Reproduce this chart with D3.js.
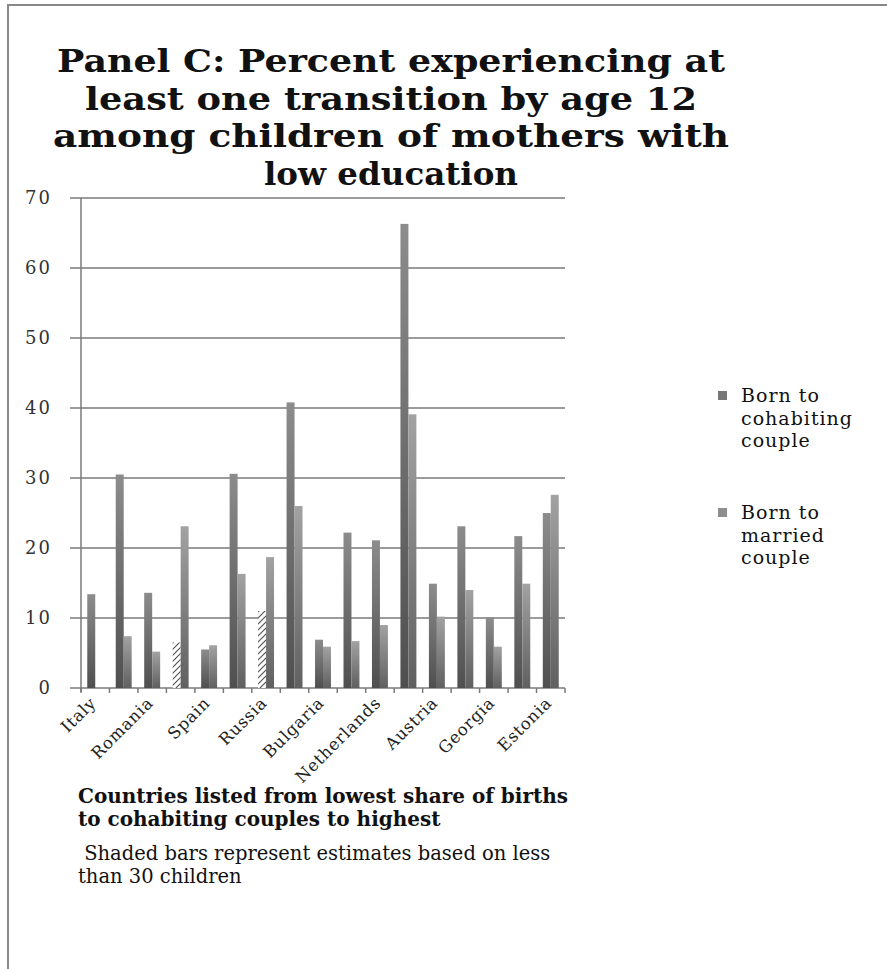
<!DOCTYPE html>
<html>
<head>
<meta charset="utf-8">
<script src="https://cdn.jsdelivr.net/npm/d3@7"></script>
<style>
  body { margin: 0; background: #fff; }
  svg text { fill: #111; }
</style>
</head>
<body>
<svg id="chart" width="887" height="969"></svg>
<script>
// tick labels on the x axis (Excel skipped every other country name)
const countryLabels = ["Italy", "", "Romania", "", "Spain", "", "Russia", "", "Bulgaria", "",
  "Netherlands", "", "Austria", "", "Georgia", "", "Estonia"];
// series values
const cohabiting = [13.4, 30.5, 13.6, 6.5, 5.5, 30.6, 11.0, 40.8, 6.9, 22.2, 21.1, 66.3, 14.9, 23.1, 10.1, 21.7, 25.0];
const married = [0, 7.4, 5.2, 23.1, 6.1, 16.3, 18.7, 26.0, 5.9, 6.7, 9.0, 39.1, 10.2, 14.0, 5.9, 14.9, 27.6];
// bars based on less than 30 children (drawn hatched)
const smallCohabiting = [3, 6];
const smallMarried = [];
const yTicks = [0, 10, 20, 30, 40, 50, 60, 70];

const svg = d3.select("#chart");
const serif = "'DejaVu Serif', serif";

// frame
svg.append("path")
  .attr("d", "M8,969 V5 H887")
  .attr("fill", "none").attr("stroke", "#888").attr("stroke-width", 2);

// defs: gradients + hatch
const defs = svg.append("defs");
const grads = [["gCohab", "#4f4f4f", "#8c8c8c"], ["gMarried", "#606060", "#a2a2a2"]];
grads.forEach(g => {
  const lg = defs.append("linearGradient").attr("id", g[0])
    .attr("x1", 0).attr("y1", 1).attr("x2", 0).attr("y2", 0);
  lg.append("stop").attr("offset", "0%").attr("stop-color", g[1]);
  lg.append("stop").attr("offset", "100%").attr("stop-color", g[2]);
});
const hatch = defs.append("pattern").attr("id", "hatch")
  .attr("patternUnits", "userSpaceOnUse").attr("width", 6).attr("height", 6);
hatch.append("rect").attr("width", 6).attr("height", 6).attr("fill", "#fff");
hatch.append("path").attr("d", "M0,6 L6,0 M-1,1 L1,-1 M5,7 L7,5")
  .attr("stroke", "#555").attr("stroke-width", 1.2);

// title (stretched a bit wide, like the narrow bold serif in the original)
const titleLines = ["Panel C: Percent experiencing at", "least one transition by age 12",
  "among children of mothers with", "low education"];
const titleWidths = [668, 612, 676, 254];
svg.append("g").selectAll("text").data(titleLines).join("text")
  .attr("x", 391).attr("y", (d, i) => 72 + i * 37.5)
  .attr("text-anchor", "middle")
  .attr("font-family", serif).attr("font-weight", "bold").attr("font-size", 31)
  .attr("textLength", (d, i) => titleWidths[i]).attr("lengthAdjust", "spacingAndGlyphs")
  .text(d => d);

// scales
const idx = d3.range(cohabiting.length);
const x = d3.scaleBand().domain(idx).range([81, 565]).paddingInner(0.44).paddingOuter(0.22);
const xs = d3.scaleBand().domain([0, 1]).range([0, x.bandwidth()]);
const y = d3.scaleLinear().domain([0, 70]).range([688, 198]);

// gridlines + y labels
svg.append("g").selectAll("line").data(yTicks).join("line")
  .attr("x1", 70).attr("x2", 565)
  .attr("y1", d => y(d)).attr("y2", d => y(d))
  .attr("stroke", "#7a7a7a").attr("stroke-width", 1.5);
svg.append("g").selectAll("text").data(yTicks).join("text")
  .attr("x", 52).attr("y", d => y(d) + 6)
  .attr("text-anchor", "end")
  .attr("font-family", serif).attr("font-size", 18).attr("letter-spacing", 2)
  .style("fill", "#333")
  .text(d => d);

// y axis line
svg.append("line").attr("x1", 81).attr("x2", 81).attr("y1", y(70)).attr("y2", y(0) + 4)
  .attr("stroke", "#7a7a7a").attr("stroke-width", 1.5);

// bars
const barData = [];
idx.forEach(i => {
  barData.push({ i, s: 0, v: cohabiting[i], small: smallCohabiting.includes(i) });
  barData.push({ i, s: 1, v: married[i], small: smallMarried.includes(i) });
});
svg.append("g").selectAll("rect").data(barData.filter(d => d.v > 0)).join("rect")
  .attr("x", d => x(d.i) + xs(d.s))
  .attr("width", xs.bandwidth())
  .attr("y", d => y(d.v))
  .attr("height", d => y(0) - y(d.v))
  .attr("fill", d => d.small ? "url(#hatch)" : (d.s === 0 ? "url(#gCohab)" : "url(#gMarried)"));

// x axis with boundary ticks
const step = x.step();
const bounds = d3.range(cohabiting.length + 1).map(k => 81 + k * step);
svg.append("g").selectAll("line").data(bounds).join("line")
  .attr("x1", d => d).attr("x2", d => d).attr("y1", y(0)).attr("y2", y(0) + 5)
  .attr("stroke", "#7a7a7a").attr("stroke-width", 1.5);

const xAxis = d3.axisBottom(x).tickSize(0).tickFormat(i => countryLabels[i]);
const gx = svg.append("g").attr("transform", `translate(0,${y(0)})`).call(xAxis);
gx.select(".domain").remove();
gx.selectAll("text")
  .attr("font-family", serif).attr("font-size", 16.5).attr("letter-spacing", 0.8)
  .style("fill", "#222")
  .attr("text-anchor", "end")
  .attr("dy", null).attr("y", 0)
  .attr("transform", "translate(2,16) rotate(-45)");

// legend
const legendY = [395, 512];
const legendLines = [["Born to", "cohabiting", "couple"], ["Born to", "married", "couple"]];
const lg = svg.append("g");
legendLines.forEach((lines, k) => {
  lg.append("rect").attr("x", 718).attr("y", legendY[k] - 4).attr("width", 9).attr("height", 9)
    .attr("fill", k === 0 ? "#777" : "#8e8e8e");
  lg.append("g").selectAll("text").data(lines).join("text")
    .attr("x", 741).attr("y", (d, j) => legendY[k] + 7 + j * 22.5)
    .attr("font-family", serif).attr("font-size", 19).attr("letter-spacing", 1)
    .text(d => d);
});

// footnotes
const noteBold = ["Countries listed from lowest share of births", "to cohabiting couples to highest"];
svg.append("g").selectAll("text").data(noteBold).join("text")
  .attr("x", 78).attr("y", (d, i) => 803 + i * 23)
  .attr("font-family", serif).attr("font-weight", "bold").attr("font-size", 20)
  .text(d => d);
const notePlain = [" Shaded bars represent estimates based on less", "than 30 children"];
svg.append("g").selectAll("text").data(notePlain).join("text")
  .attr("x", 78).attr("y", (d, i) => 860 + i * 23)
  .attr("font-family", serif).attr("font-size", 19.5)
  .style("white-space", "pre")
  .text(d => d);
</script>
</body>
</html>
